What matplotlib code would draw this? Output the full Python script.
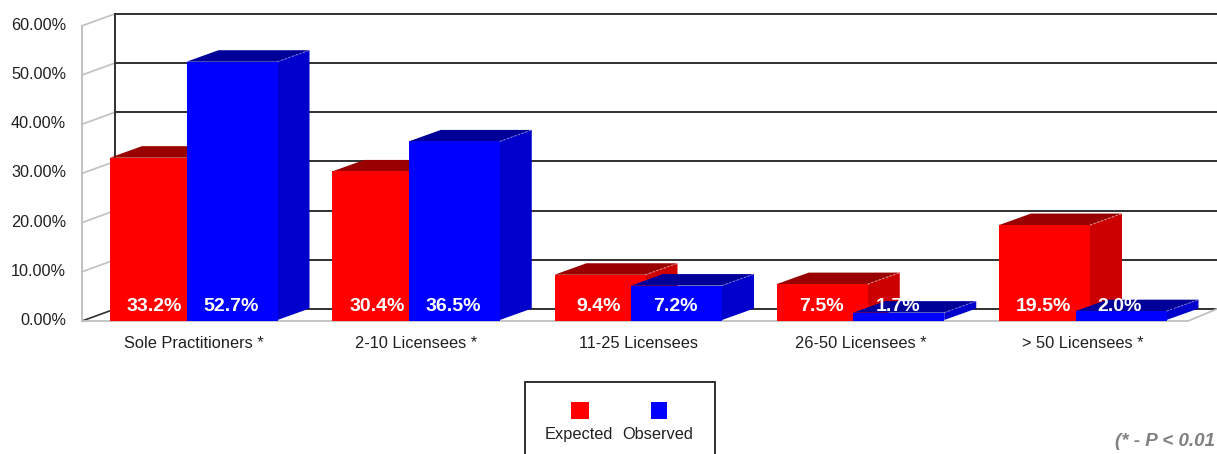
import matplotlib
matplotlib.use('Agg')
import matplotlib.pyplot as plt
from matplotlib.patches import Polygon, Rectangle

# values
categories = ['Sole Practitioners *', '2-10 Licensees *', '11-25 Licensees', '26-50 Licensees *', '> 50 Licensees *']
expected = [33.2, 30.4, 9.4, 7.5, 19.5]
observed = [52.7, 36.5, 7.2, 1.7, 2.0]
y_ticks = [0, 10, 20, 30, 40, 50, 60]

W = 1217
H = 454
px_x = 222.25   # pixels per category
px_y = 4.92     # pixels per percent
x0 = 110
y0 = 321

fig = plt.figure(figsize=(W / 100, H / 100), dpi=100)
ax = fig.add_axes([0, 0, 1, 1])
ax.set_xlim(-x0 / px_x, (W - x0) / px_x)
ax.set_ylim((y0 - H) / px_y, y0 / px_y)
ax.axis('off')
plt.rcParams['font.family'] = ['Liberation Sans', 'DejaVu Sans']

bar_w = 91 / px_x
offset = 76.5 / px_x
dx = 32 / px_x
dy = 11.5 / px_y
wall_x = -28 / px_x
wall_dx = 33 / px_x
wall_dy = 12 / px_y
base = 0.2


def bar3d(x, v, front, top, side):
    l = x
    r = x + bar_w
    ax.add_patch(Polygon([(r, base), (r + dx, base + dy), (r + dx, v + dy), (r, v)], color=side, lw=0, zorder=3))
    ax.add_patch(Polygon([(l, v), (l + dx, v + dy), (r + dx, v + dy), (r, v)], color=top, lw=0, zorder=3))
    ax.add_patch(Rectangle((l, 0), bar_w, v, color=front, lw=0, zorder=3))
    ax.plot([r, r + dx], [v, v + dy], color='#e8a0a0' if front == '#ff0000' else '#8080e0',
            lw=0.7, ls=(0, (2, 2)), zorder=3)


# walls and grid
right = (W - x0) / px_x
for t in y_ticks:
    ax.plot([wall_x, wall_x + wall_dx], [t, t + wall_dy], color='#c0c0c0' if t else '#303030', lw=1.2, zorder=1)
    ax.plot([wall_x + wall_dx, right], [t + wall_dy, t + wall_dy], color='#202020', lw=1.3, zorder=1)
    ax.text(wall_x - 16 / px_x, t + 0.1, '%.2f%%' % t, ha='right', va='center', fontsize=11.7, color='#202020')
ax.plot([wall_x, wall_x], [0, 60], color='#c0c0c0', lw=1.4, zorder=1)
ax.plot([wall_x + wall_dx] * 2, [wall_dy, 60 + wall_dy], color='#303030', lw=1.4, zorder=1)
floor_end = (1188 - x0) / px_x
ax.plot([wall_x, floor_end, floor_end + 29 / px_x], [0, 0, wall_dy], color='#c0c0c0', lw=1.3, zorder=2)

for i in range(len(categories)):
    bar3d(i, expected[i], '#ff0000', '#990000', '#cc0000')
    bar3d(i + offset, observed[i], '#0000ff', '#000099', '#0000cc')
    for x, v in [(i, expected[i]), (i + offset, observed[i])]:
        ax.text(x + bar_w / 2 - 1 / px_x, 3.0, '%.1f%%' % v, ha='center', va='center', color='white',
                fontsize=14, fontweight='bold', zorder=5)
    ax.text(i + 84 / px_x, -4.6, categories[i], ha='center', va='center', fontsize=11.8, color='#202020')

# legend box runs off the bottom of the picture
def px(x, y):
    return (x - x0) / px_x, (y0 - y) / px_y


ax.add_patch(Rectangle(px(525, 460), 190 / px_x, 78 / px_y, fc='white', ec='#202020', lw=1.3, zorder=4))
ax.add_patch(Rectangle(px(571, 419), 18 / px_x, 17 / px_y, color='#ff0000', lw=0, zorder=5))
ax.add_patch(Rectangle(px(651, 419), 16 / px_x, 17 / px_y, color='#0000ff', lw=0, zorder=5))
ax.text(*px(578.5, 439), 'Expected', ha='center', va='baseline', fontsize=11.8, color='#202020', zorder=5)
ax.text(*px(658, 439), 'Observed', ha='center', va='baseline', fontsize=11.8, color='#202020', zorder=5)

ax.text(*px(1115, 441), '(* - P < 0.01', ha='left', va='center', fontsize=13.5, color='#808080',
        style='italic', fontweight='bold')

fig.savefig('out.png', dpi=100)
